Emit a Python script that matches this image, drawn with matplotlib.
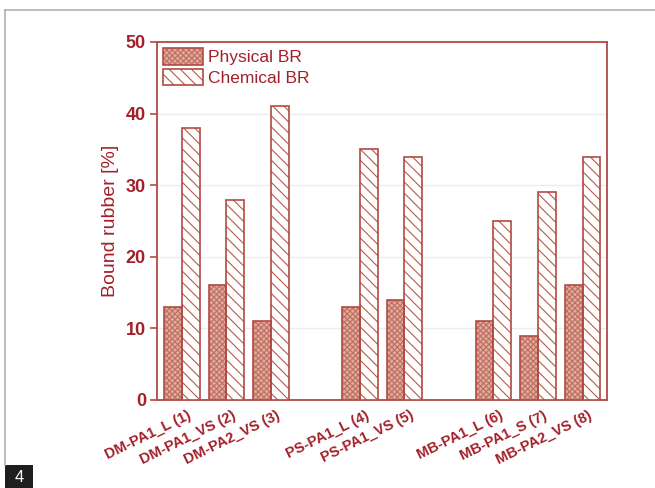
import matplotlib
matplotlib.use("Agg")
import matplotlib.pyplot as plt
from matplotlib.patches import Patch, Rectangle
from matplotlib.lines import Line2D
import numpy as np

plt.rcParams['font.family'] = ['Liberation Sans', 'DejaVu Sans']

categories = ["DM-PA1_L (1)", "DM-PA1_VS (2)", "DM-PA2_VS (3)",
              "PS-PA1_L (4)", "PS-PA1_VS (5)",
              "MB-PA1_L (6)", "MB-PA1_S (7)", "MB-PA2_VS (8)"]
positions = [0, 1, 2, 4, 5, 7, 8, 9]
physical_br = [13, 16, 11, 13, 14, 11, 9, 16]
chemical_br = [38, 28, 41, 35, 34, 25, 29, 34]
yticks = [0, 10, 20, 30, 40, 50]

text_red = '#a3202a'
edge_red = '#b04a44'
phys_fill = '#dfab9e'
phys_hatch = '#c06e5f'
chem_hatch = '#b85a48'

plt.rcParams['hatch.linewidth'] = 0.8

fig = plt.figure(figsize=(6.55, 4.88), dpi=100)
ax = fig.add_axes([157/655, 1-400/488, (607-157)/655, (400-42)/488])

x = np.array(positions, dtype=float)
w = 0.4
ax.bar(x - w/2, physical_br, width=w, facecolor=phys_fill, hatch='xxxxxx',
       edgecolor=phys_hatch, linewidth=0, zorder=3)
ax.bar(x - w/2, physical_br, width=w, fill=False, edgecolor=edge_red,
       linewidth=1.2, zorder=4)
ax.bar(x + w/2, chemical_br, width=w, facecolor='white', hatch='\\\\\\',
       edgecolor=chem_hatch, linewidth=0, zorder=3)
ax.bar(x + w/2, chemical_br, width=w, fill=False, edgecolor=edge_red,
       linewidth=1.2, zorder=4)

ax.set_xlim(-0.56, 9.55)
ax.set_ylim(0, 50)
ax.set_yticks(yticks)
ax.set_yticklabels([str(t) for t in yticks], fontsize=13, fontweight='bold',
                   color=text_red)
ax.tick_params(axis='y', direction='out', length=5, width=1.2, color=edge_red, pad=3)
ax.set_xticks(x + 0.12)
ax.set_xticklabels(categories, rotation=26, ha='right', va='top',
                   rotation_mode='anchor', fontsize=10.5, fontweight='bold',
                   color=text_red)
ax.tick_params(axis='x', length=0, pad=6)

for s in ax.spines.values():
    s.set_color(edge_red)
    s.set_linewidth(1.3)

ax.yaxis.grid(True, color='#ececec', linewidth=1.0, zorder=0)
ax.set_axisbelow(True)

ax.set_ylabel("Bound rubber [%]", fontsize=14, color=text_red, labelpad=5)

h1 = (Patch(facecolor=phys_fill, hatch='xxxxxx', edgecolor=phys_hatch, linewidth=0),
      Patch(fill=False, edgecolor=edge_red, linewidth=1.2))
h2 = (Patch(facecolor='white', hatch='\\\\\\', edgecolor=chem_hatch, linewidth=0),
      Patch(fill=False, edgecolor=edge_red, linewidth=1.2))
leg = ax.legend([h1, h2], ["Physical BR", "Chemical BR"], loc='upper left',
                bbox_to_anchor=(0.0, 1.0), frameon=False, fontsize=12.5,
                handlelength=2.3, handleheight=1.1, labelspacing=0.2,
                handletextpad=0.3, borderpad=0.15, borderaxespad=0.2)
for t in leg.get_texts():
    t.set_color(text_red)

# page frame
fig.add_artist(Line2D([5/655, 1.0], [1-10/488, 1-10/488], color='#b0b0b0',
                      linewidth=1.2, transform=fig.transFigure))
fig.add_artist(Line2D([5/655, 5/655], [1-10/488, 1-465/488], color='#b0b0b0',
                      linewidth=1.2, transform=fig.transFigure))
fig.add_artist(Rectangle((5/655, 0), 28/655, 23/488, facecolor='#1e1e1e',
                         edgecolor='none', transform=fig.transFigure))
fig.text(19/655, 11/488, "4", color='white', fontsize=12, ha='center', va='center')

fig.savefig("out.png", dpi=100, facecolor='white')
